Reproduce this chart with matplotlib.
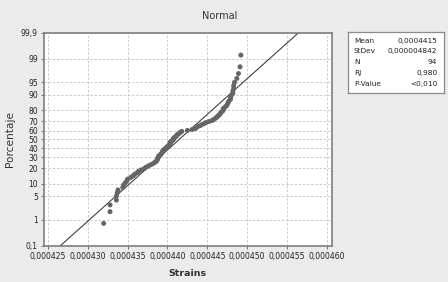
import matplotlib
matplotlib.use("Agg")
from matplotlib import pyplot as plt
from statistics import NormalDist
import numpy as np

# strains, in units of 1e-6 (sorted)
strains_u = [432.0, 432.8, 432.8, 433.6, 433.6, 433.7, 433.8, 434.4, 434.5, 434.7,
             434.9, 435.0, 435.4, 435.7, 435.9, 436.2, 436.4, 436.7, 437.1, 437.3,
             437.6, 437.9, 438.2, 438.4, 438.6, 438.7, 438.75, 438.8, 438.9, 438.9,
             439.1, 439.2, 439.3, 439.4, 439.4, 439.5, 439.7, 439.8, 439.9, 440.1,
             440.2, 440.3, 440.3, 440.4, 440.4, 440.6, 440.7, 440.8, 440.8, 441.0,
             441.1, 441.2, 441.3, 441.5, 441.6, 441.8, 442.5, 443.1, 443.5, 443.6,
             443.8, 444.1, 444.3, 444.6, 444.8, 445.2, 445.6, 445.8, 446.0, 446.2,
             446.3, 446.5, 446.6, 446.7, 446.9, 447.0, 447.0, 447.2, 447.4, 447.5,
             447.6, 447.7, 447.9, 447.9, 448.0, 448.2, 448.2, 448.3, 448.3, 448.4,
             448.7, 448.9, 449.1, 449.2]
mean = 0.0004415
stdev = 0.000004842

stat_names = ["Mean", "StDev", "N", "RJ", "P-Value"]
stat_values = ["0,0004415", "0,000004842", "94", "0,980", "<0,010"]

y_ticks = [0.1, 1, 5, 10, 20, 30, 40, 50, 60, 70, 80, 90, 95, 99, 99.9]
x_ticks = [0.000425, 0.000430, 0.000435, 0.000440, 0.000445, 0.000450, 0.000455, 0.000460]

nd = NormalDist()
x = np.array(strains_u) * 1e-6
n = len(x)
# median ranks (Benard) as plotting positions, mapped to normal quantiles
z = np.array([nd.inv_cdf((i - 0.3) / (n + 0.4)) for i in range(1, n + 1)])
zlim = nd.inv_cdf(0.999)

fig = plt.figure(figsize=(4.48, 2.82), dpi=100, facecolor="#ebebeb")
ax = fig.add_axes([0.0971, 0.1277, 0.644, 0.757])
ax.set_facecolor("white")

# fitted line from the reported mean / stdev
zz = np.array([-zlim - 0.5, zlim + 0.5])
ax.plot(mean + stdev * zz, zz, color="#404040", lw=0.8, zorder=2)
ax.scatter(x, z, s=13, color="#656565", edgecolors="none", zorder=3)

ax.set_xlim(0.00042446, 0.00046063)
ax.set_ylim(-zlim, zlim)
ax.set_xticks(x_ticks)
ax.set_xticklabels([("%.6f" % t).replace(".", ",") for t in x_ticks])
ax.set_yticks([nd.inv_cdf(p / 100) for p in y_ticks])
ax.set_yticklabels([("%g" % p).replace(".", ",") for p in y_ticks])
ax.tick_params(labelsize=5.5, length=2.5, width=0.7, color="#707070",
               labelcolor="#222222", pad=1.5)
ax.grid(True, color="#c4c4c4", lw=0.6, linestyle=(0, (3, 2)))
for s in ax.spines.values():
    s.set_color("#7e7e7e")
    s.set_linewidth(1.2)

ax.set_xlabel("Strains", fontsize=6.8, fontweight="bold", color="#333333", labelpad=6)
ax.set_ylabel("Porcentaje", fontsize=7.6, color="#333333", labelpad=4)
fig.text(0.49, 0.945, "Normal", fontsize=7, color="#333333", ha="center", va="center")

# stats box
box = fig.add_axes([348 / 448, 1 - 93 / 282, 96 / 448, 61 / 282])
box.set_xticks([])
box.set_yticks([])
box.set_facecolor("white")
for s in box.spines.values():
    s.set_color("#8a8a8a")
    s.set_linewidth(0.9)
for k, (name, val) in enumerate(zip(stat_names, stat_values)):
    yy = 0.86 - k * 0.178
    box.text(0.06, yy, name, fontsize=5.3, color="#222222", va="center",
             transform=box.transAxes)
    box.text(0.93, yy, val, fontsize=5.3, color="#222222", va="center", ha="right",
             transform=box.transAxes)

fig.savefig("out.png", dpi=100, facecolor=fig.get_facecolor())
